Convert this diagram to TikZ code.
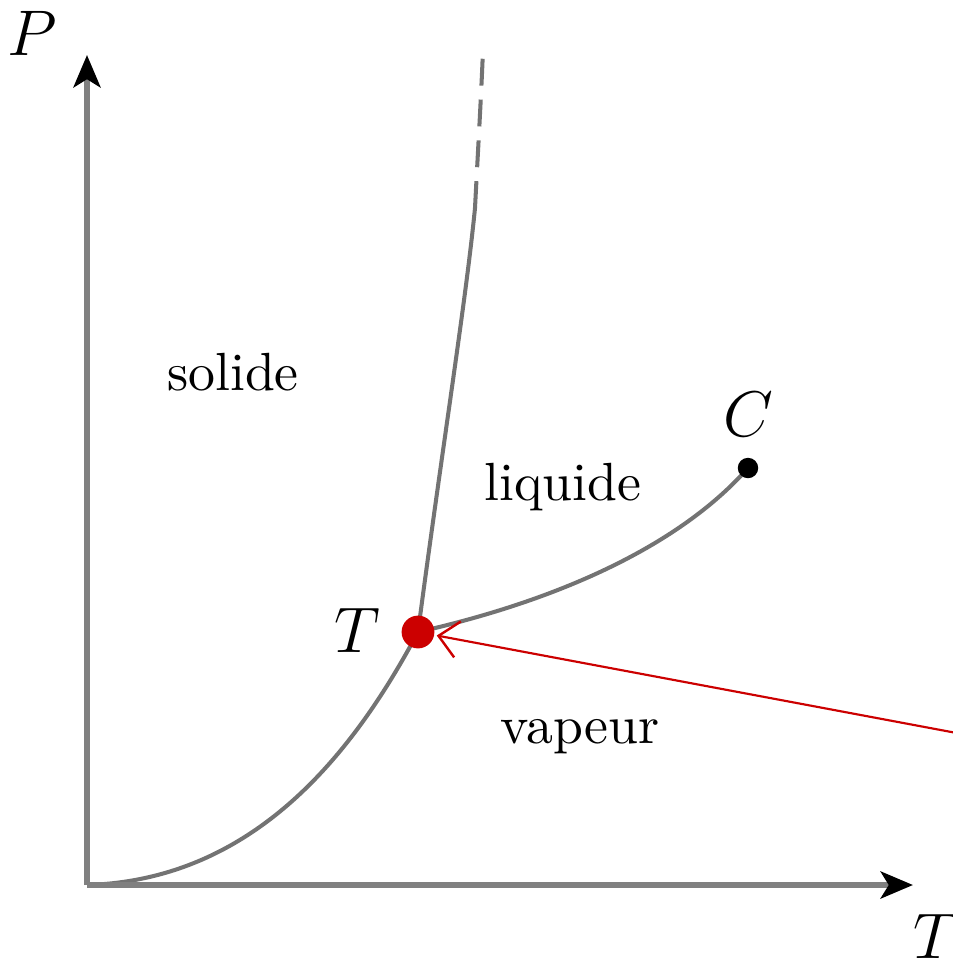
\documentclass[tikz,border=0pt]{standalone}
\usetikzlibrary{arrows.meta}
\begin{document}
\begin{tikzpicture}[x=0.186pt,y=-0.186pt,
  axis/.style={draw=black!50,line width=1.1pt,-{Stealth[black,length=6pt,width=5pt,inset=1.5pt]}},
  curve/.style={draw=black!55,line width=0.75pt},
  lbl/.style={inner sep=0pt,font=\large},
  region/.style={inner sep=0pt},
  tripledot/.style={circle,fill=red!80!black,minimum size=6.1pt,inner sep=0pt},
  critdot/.style={circle,fill=black,minimum size=3.8pt,inner sep=0pt},
  redarrow/.style={draw=red!80!black,line width=0.4pt,-{Straight Barb[length=3.6pt,width=6.8pt,line width=0.45pt]},shorten >=0.3pt}]
\useasboundingbox (0,0) rectangle (953,960);
\coordinate (O) at (87,885);
\coordinate (Ytop) at (87,55);
\coordinate (Xend) at (913,885);
\coordinate (tpc) at (418,632);
\coordinate (Cc) at (748,468);
\coordinate (fusend) at (475,208);
\coordinate (fustop) at (483,50);
\coordinate (src) at (962,734);
% curves
\draw[curve] (O) .. controls (250,880) and (350,760) .. (tpc);
\draw[curve] (tpc) .. controls (442,450) and (466,300) .. (fusend);
\draw[curve,dash pattern=on 5pt off 2.6pt] (fusend) .. controls (478,150) and (481,100) .. (fustop);
\draw[curve] (tpc) .. controls (560,600) and (680,545) .. (Cc);
% axes
\draw[axis] (O) -- (Ytop);
\draw[axis] (O) -- (Xend);
% nodes
\node[lbl] (Plabel) at (32,33) {$P$};
\node[lbl] (Tlabel) at (936,936) {$T$};
\node[tripledot] (tp) at (tpc) {};
\node[critdot] (C) at (Cc) {};
\node[lbl] (Clabel) at (748,414) {$C$};
\node[lbl] (TPlabel) at (357,630) {$T$};
\node[region] (solide) at (233,372) {solide};
\node[region] (liquide) at (563,487) {liquide};
\node[region] (vapeur) at (580,737) {vapeur};
% red arrow
\draw[redarrow] (src) -- (tp);
\end{tikzpicture}
\end{document}
